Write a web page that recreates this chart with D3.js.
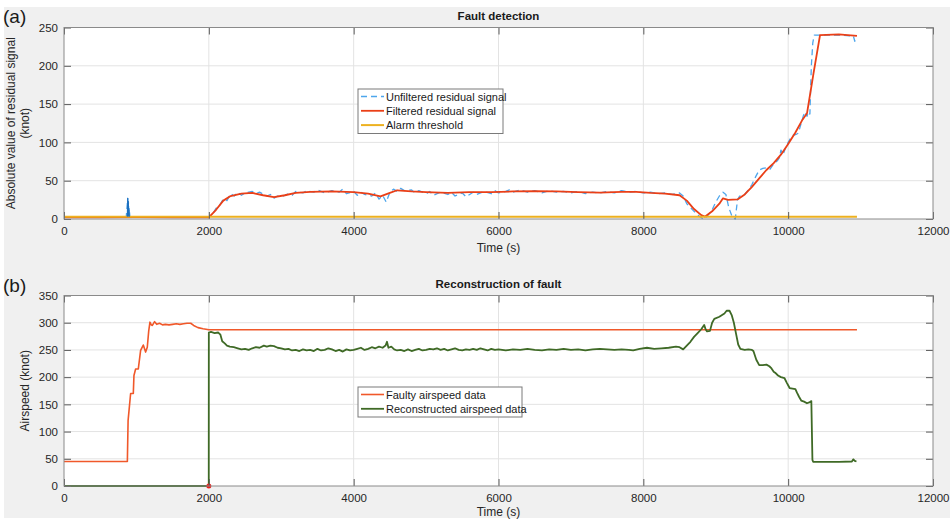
<!DOCTYPE html>
<html>
<head>
<meta charset="utf-8">
<script src="https://cdn.jsdelivr.net/npm/d3@7"></script>
<style>
    body { margin: 0; background: #fff; }
    svg { display: block; font-family: "Liberation Sans", Arial, sans-serif; }
</style>
</head>
<body>
<div id="chart"></div>
<script>
// time ticks (s)
const timeTicks = [0, 2000, 4000, 6000, 8000, 10000, 12000];
const residualTicks = [0, 50, 100, 150, 200, 250];
const airspeedTicks = [0, 50, 100, 150, 200, 250, 300, 350];

// (a) fault detection, [time, knot]
const unfilteredResidual = [
    [0,2.5],[200,2.8],[400,2.3],[600,2.6],[800,2.4],[860,3],[870,15],[880,27],[885,8],[890,22],[895,5],[900,14],[910,3],
    [1000,2.8],[1200,2.5],[1400,2.9],[1600,2.4],[1800,2.6],[2000,2.2],[2050,6],[2100,14],[2150,18],[2200,26],[2250,24],
    [2300,33],[2350,30],[2400,35],[2450,31],[2500,34],[2600,36],[2650,33],[2700,35],[2800,30],[2850,32],[2900,27],
    [2950,30],[3000,29],[3100,33],[3150,31],[3200,36],[3300,34],[3350,37],[3450,35],[3500,38],[3600,34],[3700,37],
    [3800,35],[3850,39],[3900,33],[4000,36],[4050,31],[4100,35],[4150,32],[4250,30],[4300,34],[4350,26],[4400,31],
    [4450,22],[4500,35],[4550,39],[4600,36],[4650,40],[4700,37],[4800,38],[4850,34],[4900,37],[5000,33],[5050,36],
    [5100,31],[5200,35],[5300,32],[5350,35],[5400,30],[5500,34],[5550,29],[5650,35],[5700,32],[5800,36],[5900,33],
    [5950,37],[6000,34],[6100,36],[6150,38],[6200,35],[6300,38],[6400,35],[6500,37],[6600,34],[6700,37],[6800,35],
    [6900,36],[7000,34],[7100,36],[7200,33],[7300,35],[7400,34],[7500,36],[7600,34],[7700,37],[7800,35],[7900,36],
    [8000,34],[8100,35],[8200,33],[8300,34],[8400,32],[8500,34],[8550,30],[8600,20],[8700,10],[8780,3],[8830,0],
    [8870,2],[8950,12],[9000,22],[9050,30],[9100,35],[9140,32],[9180,15],[9230,2],[9270,0],[9300,25],[9330,30],
    [9400,32],[9450,38],[9500,45],[9550,55],[9600,64],[9650,66],[9700,67],[9750,65],[9800,72],[9850,76],[9880,80],
    [9900,90],[9930,84],[9960,92],[10000,100],[10030,105],[10060,109],[10100,110],[10140,112],[10180,125],[10210,135],
    [10240,140],[10260,134],[10280,140],[10300,137],[10310,170],[10320,200],[10340,230],[10360,240],[10500,240],
    [10700,240],[10900,239],[10920,232],[10940,238]
];
// darker blue burst of the raw signal
const rawSpike = [[875,3],[880,27],[884,5],[888,23],[892,4],[897,12],[902,3]];
const filteredResidual = [
    [0,2],[500,2],[1000,2.5],[1500,2],[2000,2],[2100,12],[2200,24],[2300,30],[2450,33],[2600,34],[2750,31],[2900,28.5],
    [3050,31],[3200,34],[3400,35.5],[3700,36],[4000,35],[4200,33],[4370,29.5],[4500,34],[4600,37.5],[4800,36],[5000,35],
    [5300,34],[5600,35],[5900,35],[6200,36],[6500,36.5],[6800,36],[7100,35],[7400,34.5],[7700,35.5],[7900,35.5],
    [8100,34],[8300,33],[8500,31],[8600,24],[8700,13],[8800,5],[8850,3],[8950,10],[9050,20],[9100,27],[9170,25],
    [9300,25.5],[9400,32],[9500,42],[9600,53],[9700,64],[9800,73],[9900,84],[10000,98],[10100,113],[10200,130],
    [10260,138],[10350,190],[10440,240],[10700,241],[10950,239]
];
const alarmThreshold = [[0,3],[10950,3]];

// (b) reconstruction of fault, [time, knot]
const faultyAirspeed = [
    [0,45],[875,45],[885,120],[920,170],[957,170],[966,203],[989,215],[1026,215],[1058,249],[1095,259],[1127,246],
    [1150,255],[1170,285],[1187,301],[1205,296],[1220,295],[1251,302],[1280,297],[1320,299],[1360,296],[1400,297],
    [1450,296],[1500,297],[1550,298],[1600,297],[1650,298],[1700,299],[1750,299],[1790,295],[1850,291],[1920,289],
    [2000,287],[10950,287]
];
const reconstructedAirspeed = [
    [0,0],[1999,0],[2000,282],[2030,283],[2080,281],[2130,282],[2160,278],[2185,266],[2220,262],[2250,258],[2290,256],
    [2345,255],[2400,253],[2450,251],[2500,252],[2550,250],[2600,253],[2650,255],[2700,254],[2760,258],[2800,256],
    [2850,258],[2900,257],[2950,254],[3000,253],[3050,251],[3100,252],[3150,249],[3200,250],[3250,248],[3300,251],
    [3350,249],[3400,250],[3450,248],[3500,252],[3550,249],[3600,250],[3650,253],[3700,251],[3750,248],[3800,250],
    [3850,247],[3900,251],[3950,249],[4000,250],[4050,252],[4100,254],[4150,250],[4200,252],[4250,255],[4300,253],
    [4350,256],[4400,254],[4440,258],[4460,265],[4480,254],[4520,256],[4560,251],[4600,249],[4650,250],[4700,248],
    [4750,251],[4800,248],[4850,250],[4900,252],[4950,249],[5000,250],[5050,252],[5100,251],[5150,253],[5200,250],
    [5250,252],[5300,249],[5350,251],[5400,253],[5450,250],[5500,249],[5550,251],[5600,250],[5650,252],[5700,250],
    [5750,253],[5800,251],[5850,249],[5900,252],[5950,250],[6000,251],[6100,249],[6200,251],[6300,250],[6400,252],
    [6500,250],[6600,249],[6700,251],[6800,250],[6900,252],[7000,250],[7100,251],[7200,249],[7300,251],[7400,252],
    [7500,251],[7600,250],[7700,251],[7800,250],[7860,249],[7950,252],[8050,254],[8150,252],[8250,253],[8350,254],
    [8450,256],[8500,255],[8550,251],[8600,258],[8650,265],[8700,274],[8750,281],[8800,288],[8840,296],[8860,288],
    [8880,284],[8920,285],[8950,300],[8980,307],[9050,311],[9120,317],[9150,322],[9190,322],[9220,314],[9250,300],
    [9280,280],[9310,260],[9340,252],[9400,250],[9450,251],[9500,250],[9520,248],[9560,232],[9600,222],[9650,222],
    [9700,223],[9740,220],[9770,216],[9800,210],[9830,207],[9860,203],[9900,200],[9950,198],[9980,190],[10020,180],
    [10060,179],[10100,178],[10120,172],[10150,164],[10180,157],[10220,155],[10260,152],[10300,154],[10320,156],
    [10335,48],[10345,44.5],[10500,44.5],[10700,44.5],[10880,45],[10900,49],[10920,46],[10943,45]
];
const faultMarker = [[2000, 0]];

const width = 950, height = 521;
const svg = d3.select("#chart").append("svg")
    .attr("width", width)
    .attr("height", height);

svg.append("rect")
    .attr("x", 4).attr("y", 7)
    .attr("width", 946).attr("height", 511)
    .attr("fill", "#f0f0f0");

const x = d3.scaleLinear().domain([0, 12000]).range([64, 933]);

function drawPanel(p) {
    const y = d3.scaleLinear().domain(p.yDomain).range([p.bottom, p.top]);
    const g = svg.append("g");

    g.append("rect")
        .attr("x", x(0)).attr("y", p.top)
        .attr("width", x(12000) - x(0)).attr("height", p.bottom - p.top)
        .attr("fill", "#fff");

    // grid
    g.selectAll(".gx").data(timeTicks.slice(1, -1)).enter().append("line")
        .attr("x1", d => x(d)).attr("x2", d => x(d))
        .attr("y1", p.top).attr("y2", p.bottom)
        .attr("stroke", "#e3e3e3");
    g.selectAll(".gy").data(p.yTicks.slice(1, -1)).enter().append("line")
        .attr("x1", x(0)).attr("x2", x(12000))
        .attr("y1", d => y(d)).attr("y2", d => y(d))
        .attr("stroke", "#e3e3e3");

    const line = d3.line().x(d => x(d[0])).y(d => y(d[1]));
    p.series.concat(p.extra || []).forEach(s => {
        g.append("path")
            .datum(s.data)
            .attr("fill", "none")
            .attr("stroke", s.color)
            .attr("stroke-width", s.width)
            .attr("stroke-dasharray", s.dash || null)
            .attr("stroke-linejoin", "round")
            .attr("d", line);
    });
    if (p.markers) {
        g.selectAll(".mk").data(p.markers).enter().append("circle")
            .attr("cx", d => x(d[0])).attr("cy", d => y(d[1]))
            .attr("r", 2.5).attr("fill", "#e8201c");
    }

    // axes: ticks inside, box on
    const tickLen = 7;
    const fmt = d3.format("d");
    g.append("g")
        .attr("transform", `translate(0,${p.bottom})`)
        .call(d3.axisBottom(x).tickValues(timeTicks).tickFormat(fmt).tickSize(-tickLen).tickPadding(8))
        .call(a => a.select(".domain").remove());
    g.append("g")
        .attr("transform", `translate(0,${p.top})`)
        .call(d3.axisTop(x).tickValues(timeTicks).tickSize(-tickLen).tickFormat(""))
        .call(a => a.select(".domain").remove());
    g.append("g")
        .attr("transform", `translate(${x(0)},0)`)
        .call(d3.axisLeft(y).tickValues(p.yTicks).tickFormat(fmt).tickSize(-tickLen).tickPadding(6))
        .call(a => a.select(".domain").remove());
    g.append("g")
        .attr("transform", `translate(${x(12000)},0)`)
        .call(d3.axisRight(y).tickValues(p.yTicks).tickSize(-tickLen).tickFormat(""))
        .call(a => a.select(".domain").remove());
    g.selectAll(".tick line").attr("stroke", "#5a5a5a");
    g.selectAll(".tick text").attr("font-size", 11.5).attr("fill", "#262626")
        .attr("font-family", "Liberation Sans, Arial, sans-serif");

    g.append("rect")
        .attr("x", x(0)).attr("y", p.top)
        .attr("width", x(12000) - x(0)).attr("height", p.bottom - p.top)
        .attr("fill", "none").attr("stroke", "#8a8a8a");

    g.append("text")
        .attr("x", (x(0) + x(12000)) / 2).attr("y", p.top - 8)
        .attr("text-anchor", "middle").attr("font-size", 11.5).attr("font-weight", "bold")
        .attr("fill", "#1a1a1a")
        .text(p.title);
    g.append("text")
        .attr("x", (x(0) + x(12000)) / 2).attr("y", p.bottom + p.xLabelOffset)
        .attr("text-anchor", "middle").attr("font-size", 12).attr("fill", "#262626")
        .text("Time (s)");
    p.yLabel.forEach((t, i) => {
        g.append("text")
            .attr("transform", `translate(${p.yLabelX[i]},${(p.top + p.bottom) / 2}) rotate(-90)`)
            .attr("text-anchor", "middle").attr("font-size", 12).attr("fill", "#262626")
            .text(t);
    });
    g.append("text")
        .attr("x", 3).attr("y", p.tagY)
        .attr("font-size", 19).attr("fill", "#1a1a1a")
        .text(p.tag);

    // legend
    const lg = g.append("g").attr("transform", `translate(${p.legend.x},${p.legend.y})`);
    lg.append("rect")
        .attr("width", p.legend.w).attr("height", p.series.length * 14.5 + 1)
        .attr("fill", "#fff").attr("stroke", "#7a7a7a");
    p.series.forEach((s, i) => {
        const ly = 7.5 + i * 14.3;
        lg.append("line")
            .attr("x1", 3).attr("x2", 26).attr("y1", ly).attr("y2", ly)
            .attr("stroke", s.color).attr("stroke-width", s.width)
            .attr("stroke-dasharray", s.dash || null);
        lg.append("text")
            .attr("x", 28).attr("y", ly + 4)
            .attr("font-size", 11).attr("fill", "#1a1a1a")
            .text(s.name);
    });
}

drawPanel({
    top: 27.5, bottom: 219, yDomain: [0, 250], yTicks: residualTicks,
    title: "Fault detection", tag: "(a)", tagY: 23, xLabelOffset: 33,
    yLabel: ["Absolute value of residual signal", "(knot)"], yLabelX: [15, 29],
    legend: { x: 358, y: 89, w: 145 },
    series: [
        { name: "Unfiltered residual signal", data: unfilteredResidual, color: "#4ea6ec", width: 1.3, dash: "6,4" },
        { name: "Filtered residual signal", data: filteredResidual, color: "#ea3f17", width: 1.8 },
        { name: "Alarm threshold", data: alarmThreshold, color: "#edb120", width: 2 }
    ],
    extra: [{ data: rawSpike, color: "#1c6fbf", width: 1.2 }]
});

drawPanel({
    top: 295.5, bottom: 486, yDomain: [0, 350], yTicks: airspeedTicks,
    title: "Reconstruction of fault", tag: "(b)", tagY: 292, xLabelOffset: 30,
    yLabel: ["Airspeed (knot)"], yLabelX: [29],
    legend: { x: 358, y: 387, w: 164 },
    series: [
        { name: "Faulty airspeed data", data: faultyAirspeed, color: "#f0582a", width: 1.6 },
        { name: "Reconstructed airspeed data", data: reconstructedAirspeed, color: "#3f6a26", width: 1.8 }
    ],
    markers: faultMarker
});
</script>
</body>
</html>
